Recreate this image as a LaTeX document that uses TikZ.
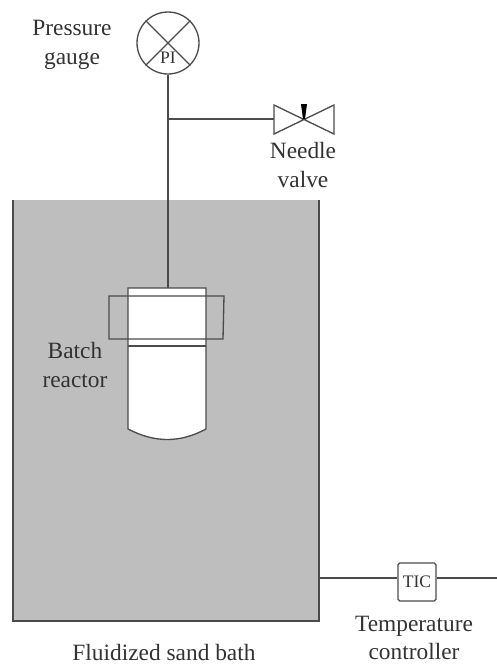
\documentclass[tikz,border=0pt]{standalone}
\usepackage{fontspec}
\setmainfont{Liberation Serif}
\usepackage{color}
\definecolor{sandgray}{RGB}{190,190,190}
\definecolor{linegray}{RGB}{75,75,75}
\definecolor{textgray}{RGB}{50,50,50}
\tikzset{
	pipe/.style={draw=linegray, line width=0.75pt},
	label/.style={text=textgray, align=center, inner sep=0pt, font=\fontsize{13.3}{16.2}\selectfont},
	tag/.style={text=textgray, inner sep=0pt, font=\fontsize{10}{11}\selectfont}
}
\begin{document}
\begin{tikzpicture}[x=0.02cm, y=-0.02cm]
	\useasboundingbox (0, 0) rectangle (497, 664);
	% sand bath, open at the top
	\fill[sandgray] (13, 200) rectangle (319, 621);
	\draw[pipe] (13, 200) -- (13, 621) -- (319, 621) -- (319, 200);
	% reactor body
	\fill[white] (128, 288) -- (206, 288) -- (206, 429) .. controls (180, 443) and (155, 443) .. (128, 429) -- cycle;
	\draw[pipe] (128, 288) -- (206, 288) -- (206, 429) .. controls (180, 443) and (155, 443) .. (128, 429) -- cycle;
	\draw[pipe] (128, 346) -- (206, 346);
	% clamp
	\draw[pipe] (109, 296) -- (224, 296) -- (223, 339) -- (109, 339) -- cycle;
	\coordinate (reactortop) at (168, 288);
	
	% pressure gauge
	\node[pipe, circle, inner sep=0pt, minimum size=1.24cm] (gauge) at (168, 43) {};
	\draw[pipe] (gauge.45) -- (gauge.225);
	\draw[pipe] (gauge.135) -- (gauge.315);
	\node[tag] (gaugetag) at (168, 58) {PI};
	\coordinate (tee) at (168, 119);
	\draw[pipe] (gauge) -- (reactortop);
	
	% needle valve
	\coordinate (valveleft) at (274, 119);
	\coordinate (valvemid) at (304, 119);
	\draw[pipe] (valveleft) -- (274, 105) -- (334, 134) -- (334, 105) -- (274, 134) -- cycle;
	\fill[black] (303, 119) -- (305, 119) -- (307, 104) -- (301, 104) -- cycle;
	\draw[pipe] (tee) -- (valveleft);
	
	% temperature controller
	\node[pipe, rectangle, rounded corners=1pt, minimum size=0.76cm, inner sep=0pt] (tic) at (417, 582) {};
	\node[tag] (tictag) at (417, 582) {TIC};
	\coordinate (bathside) at (319, 578);
	\coordinate (ticend) at (497, 578);
	\draw[pipe] (bathside) -- (tic.west |- bathside);
	\draw[pipe] (tic.east |- ticend) -- (ticend);
	
	% texts
	\node[label] (gaugelabel) at (72, 45) {Pressure\\gauge};
	\node[label] (valvelabel) at (303, 165) {Needle\\valve};
	\node[label] (reactorlabel) at (75, 365) {Batch\\reactor};
	\node[label] (bathlabel) at (164, 652) {Fluidized sand bath};
	\node[label] (ticlabel) at (414, 638) {Temperature\\controller};
\end{tikzpicture}
\end{document}
